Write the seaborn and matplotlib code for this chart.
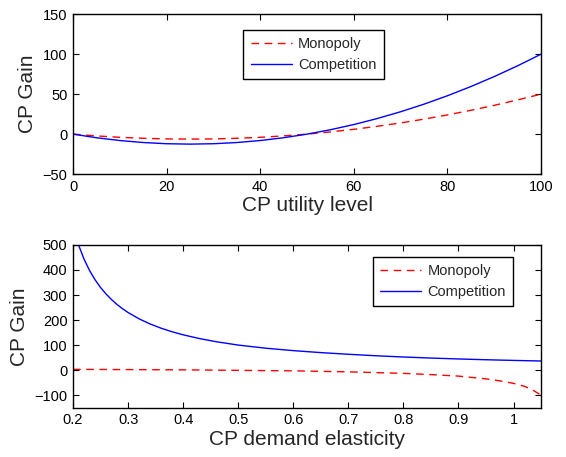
import matplotlib
matplotlib.use("Agg")
import matplotlib.pyplot as plt
import seaborn as sns
import pandas as pd

# top panel: gain vs CP utility level
utility = [0, 5, 10, 15, 20, 25, 30, 35, 40, 45, 50, 55, 60, 65, 70, 75, 80, 85, 90, 95, 100]
util_competition = [0, -4.5, -8, -10.5, -12, -12.5, -12, -10.5, -8, -4.5, 0, 5.5, 12,
                    19.5, 28, 37.5, 48, 59.5, 72, 85.5, 100]
util_monopoly = [0, -2.2, -4, -5.2, -6, -6.2, -6, -5.2, -4, -2.2, 0, 2.8, 6,
                 9.8, 14, 18.8, 24, 29.8, 36, 42.8, 50]

# bottom panel: gain vs CP demand elasticity
elast_comp_x = [0.2, 0.21, 0.22, 0.23, 0.24, 0.25, 0.26, 0.27, 0.28, 0.29, 0.3,
                0.32, 0.34, 0.36, 0.38, 0.4, 0.43, 0.46, 0.5,
                0.55, 0.6, 0.65, 0.7, 0.75, 0.8, 0.85, 0.9, 0.95, 1.0, 1.05]
elast_competition = [573, 500, 443.5, 398, 361, 330, 304, 281.6, 262, 245, 230,
                     204.8, 184.3, 167.3, 153.1, 141, 125.8, 113.4, 100,
                     87.5, 77.8, 69.9, 63.2, 57.3, 52.3, 48.1, 44.5, 41.4, 38.7, 36.3]
elast_mono_x = [0.2, 0.3, 0.4, 0.5, 0.6, 0.7, 0.75, 0.8, 0.85, 0.9, 0.95, 0.975, 1.0,
                1.02, 1.035, 1.05]
elast_monopoly = [3, 2, 1, -1, -3, -7, -10, -13, -18, -24, -35, -43, -53, -65, -80, -100]

sns.set_style("ticks")
plt.rcParams['font.family'] = ['Liberation Sans', 'DejaVu Sans']
plt.rcParams['xtick.direction'] = 'in'
plt.rcParams['ytick.direction'] = 'in'

fig = plt.figure(figsize=(5.66, 4.57), dpi=100)
ax1 = fig.add_axes([0.129, 0.619, 0.827, 0.350])
ax2 = fig.add_axes([0.129, 0.108, 0.827, 0.356])

dash = (0, (5.5, 4))

top = pd.DataFrame({'x': utility, 'mono': util_monopoly, 'comp': util_competition})
sns.lineplot(data=top, x='x', y='mono', ax=ax1, color='#ff0000', lw=1.0,
             linestyle=dash, label='Monopoly')
sns.lineplot(data=top, x='x', y='comp', ax=ax1, color='#0000ff', lw=1.0,
             label='Competition')

mono = pd.DataFrame({'x': elast_mono_x, 'y': elast_monopoly})
comp = pd.DataFrame({'x': elast_comp_x, 'y': elast_competition})
sns.lineplot(data=mono, x='x', y='y', ax=ax2, color='#ff0000', lw=1.0,
             linestyle=dash, label='Monopoly')
sns.lineplot(data=comp, x='x', y='y', ax=ax2, color='#0000ff', lw=1.0,
             label='Competition')

ax1.set_xlim(0, 100)
ax1.set_ylim(-50, 150)
ax1.set_xticks([0, 20, 40, 60, 80, 100])
ax1.set_yticks([-50, 0, 50, 100, 150])
ax1.set_xlabel('CP utility level', fontsize=15, labelpad=2)

ax2.set_xlim(0.2, 1.05)
ax2.set_ylim(-150, 500)
xt = [0.2, 0.3, 0.4, 0.5, 0.6, 0.7, 0.8, 0.9, 1.0]
ax2.set_xticks(xt)
ax2.set_xticklabels(['0.2', '0.3', '0.4', '0.5', '0.6', '0.7', '0.8', '0.9', '1'])
ax2.set_yticks([-100, 0, 100, 200, 300, 400, 500])
ax2.set_xlabel('CP demand elasticity', fontsize=15, labelpad=2)

leg_kw = dict(fontsize=10.5, frameon=True, fancybox=False, handlelength=2.8,
              handletextpad=0.45, labelspacing=0.45, borderpad=0.5, borderaxespad=0)
for ax in (ax1, ax2):
    ax.set_ylabel('CP Gain', fontsize=15, labelpad=4)
    ax.tick_params(axis='both', labelsize=10.5, length=4, width=0.8,
                   top=True, right=True, pad=4, colors='black')
    for sp in ax.spines.values():
        sp.set_visible(True)
        sp.set_color('black')
        sp.set_linewidth(1.0)
    ax.grid(False)

leg1 = ax1.legend(loc='upper center', bbox_to_anchor=(0.514, 0.9), **leg_kw)
leg2 = ax2.legend(loc='upper right', bbox_to_anchor=(0.94, 0.926), **leg_kw)
for leg in (leg1, leg2):
    leg.get_frame().set_edgecolor('black')
    leg.get_frame().set_linewidth(1.0)
    leg.get_frame().set_alpha(1)

fig.savefig('out.png', dpi=100)
